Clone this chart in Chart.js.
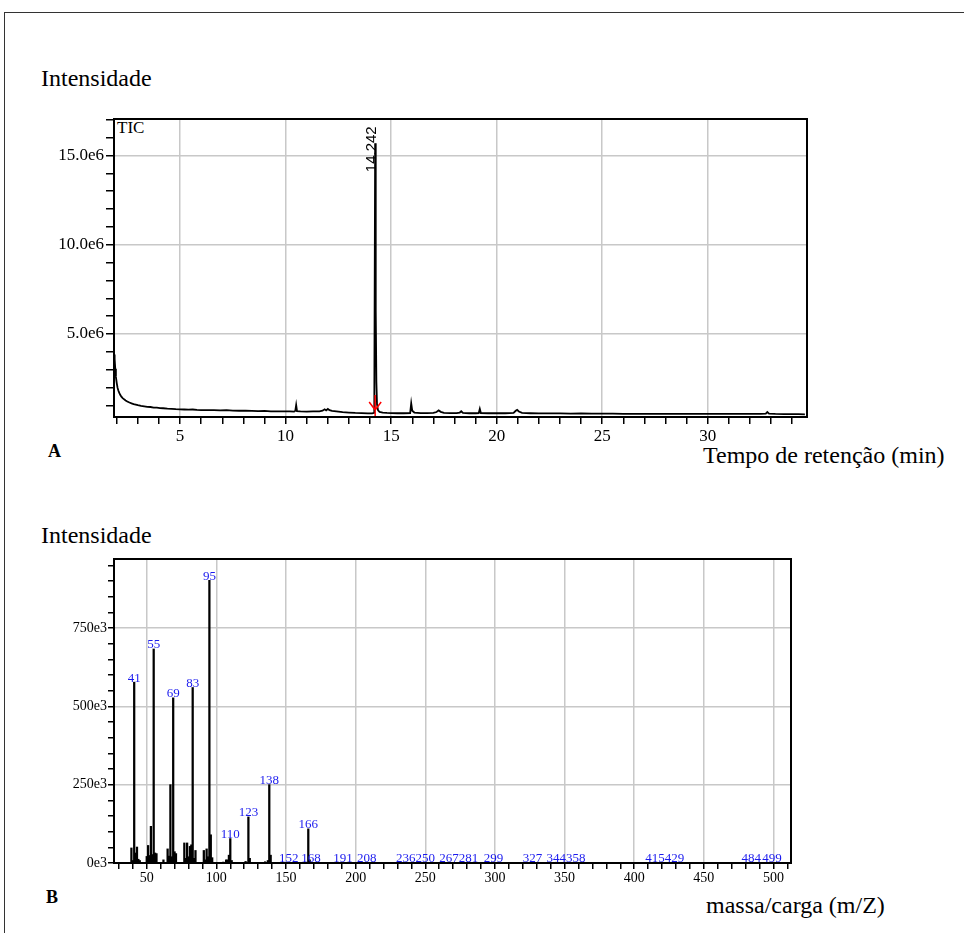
<!DOCTYPE html>
<html>
<head>
<meta charset="utf-8">
<script src="https://cdn.jsdelivr.net/npm/chart.js@4.4.1/dist/chart.umd.min.js"></script>
<style>
  html, body { margin: 0; padding: 0; background: #fff; }
  body { width: 964px; height: 933px; position: relative; overflow: hidden;
         font-family: "Liberation Serif", "Times New Roman", serif; }
  .frame { position: absolute; left: 4px; top: 12px; width: 990px; height: 960px;
           border-left: 1.5px solid #333; border-top: 1.5px solid #333; }
  .txt { position: absolute; white-space: nowrap; color: #000; }
  .big { font-size: 24px; line-height: 24px; }
  .tag { font-size: 18px; line-height: 18px; font-weight: bold; }
  canvas { position: absolute; left: 0; }
</style>
</head>
<body>
<div class="frame"></div>

<div class="txt big" style="left:41px; top:66px;">Intensidade</div>
<div class="txt" style="left:117px; top:119px; font-size:17px; line-height:17px;">TIC</div>
<div class="txt tag" style="left:48px; top:442px;">A</div>
<div class="txt big" style="left:703px; top:443px;">Tempo de retenção (min)</div>

<div class="txt big" style="left:41px; top:523px;">Intensidade</div>
<div class="txt tag" style="left:46px; top:888px;">B</div>
<div class="txt big" style="left:706px; top:893px;">massa/carga (m/Z)</div>

<canvas id="tic" width="964" height="370" style="top:100px; width:964px; height:370px;"></canvas>
<canvas id="ms" width="964" height="380" style="top:540px; width:964px; height:380px;"></canvas>

<script>
// ---- Total ion chromatogram (intensity in units of 1e6 counts) ----
const ticTime = [
  1.87, 1.90, 1.93, 1.96, 2.00, 2.04, 2.08, 2.12, 2.17, 2.22, 2.28, 2.35, 2.42, 2.50,
  2.60, 2.70, 2.80, 2.90, 3.00, 3.15, 3.30, 3.45, 3.60, 3.75, 3.90, 4.05, 4.20, 4.40,
  4.60, 4.80, 5.00, 5.20, 5.40, 5.60, 5.80, 6.00, 6.30, 6.60, 6.90, 7.20, 7.50, 7.80,
  8.10, 8.40, 8.70, 9.00, 9.30, 9.60, 9.90, 10.20, 10.40, 10.46, 10.50, 10.54, 10.70,
  11.00, 11.30, 11.60, 11.75, 11.85, 11.92, 12.00, 12.08, 12.20, 12.40, 12.70, 13.00,
  13.30, 13.60, 13.90, 14.10, 14.20, 14.242, 14.27, 14.30, 14.33, 14.38, 14.45, 14.60,
  14.80, 15.00, 15.30, 15.60, 15.90, 15.95, 16.00, 16.10, 16.40, 16.70, 17.00, 17.15,
  17.25, 17.35, 17.50, 17.80, 18.10, 18.25, 18.32, 18.40, 18.70, 19.00, 19.15, 19.20,
  19.25, 19.60, 20.00, 20.40, 20.80, 20.90, 20.97, 21.05, 21.20, 21.60, 22.00, 22.50,
  23.00, 23.50, 24.00, 24.50, 25.00, 25.50, 26.00, 26.50, 27.00, 27.50, 28.00, 28.50,
  29.00, 29.50, 30.00, 30.50, 31.00, 31.50, 32.00, 32.50, 32.75, 32.82, 32.90, 33.20,
  33.60, 34.00, 34.30, 34.60
];
const ticIntensity = [
  3.85, 3.60, 3.05, 2.60, 2.25, 1.98, 1.82, 1.70, 1.58, 1.49, 1.41, 1.34, 1.28, 1.22,
  1.16, 1.11, 1.07, 1.04, 1.01, 0.97, 0.95, 0.92, 0.91, 0.88, 0.87, 0.85, 0.84, 0.82,
  0.81, 0.79, 0.78, 0.77, 0.76, 0.77, 0.75, 0.74, 0.74, 0.73, 0.72, 0.73, 0.71, 0.70,
  0.70, 0.69, 0.68, 0.69, 0.67, 0.67, 0.66, 0.66, 0.65, 0.70, 1.02, 0.68, 0.66,
  0.65, 0.66, 0.67, 0.70, 0.78, 0.72, 0.80, 0.73, 0.69, 0.66, 0.62, 0.60,
  0.58, 0.57, 0.55, 0.55, 0.58, 15.68, 6.30, 2.30, 1.05, 0.72, 0.64, 0.60,
  0.58, 0.57, 0.56, 0.56, 0.57, 1.12, 0.70, 0.60, 0.57, 0.57, 0.58, 0.63,
  0.72, 0.64, 0.58, 0.57, 0.57, 0.60, 0.67, 0.58, 0.56, 0.56, 0.57, 0.80,
  0.57, 0.56, 0.56, 0.56, 0.58, 0.70, 0.75, 0.66, 0.58, 0.56, 0.55, 0.55,
  0.55, 0.54, 0.55, 0.54, 0.54, 0.54, 0.53, 0.53, 0.53, 0.53, 0.53, 0.52,
  0.53, 0.52, 0.52, 0.52, 0.52, 0.52, 0.52, 0.52, 0.54, 0.63, 0.54, 0.52,
  0.51, 0.51, 0.51, 0.50
];
const ticPeakTime = 14.242;

// ---- Mass spectrum of the 14.242 min peak (intensity in units of 1e3 counts) ----
const msMz = [
  39, 40, 41, 42, 43, 44, 45, 50, 51, 52, 53, 54, 55, 56, 57, 62, 65, 66, 67, 68, 69, 70, 71,
  77, 78, 79, 80, 81, 82, 83, 84, 85, 91, 92, 93, 94, 95, 96, 97, 105, 107, 108, 109, 110, 111,
  121, 123, 124, 135, 137, 138, 139, 152, 166, 167, 168, 191, 208, 236, 250, 267, 281, 299,
  327, 344, 358, 415, 429, 484, 499
];
const msIntensity = [
  48, 8, 577, 32, 51, 12, 8, 21, 56, 24, 117, 27, 683, 32, 30, 10, 45, 22, 250, 20, 527, 36, 30,
  64, 15, 64, 20, 53, 58, 560, 15, 40, 40, 10, 45, 20, 902, 90, 17, 3, 10, 10, 25, 78, 8,
  5, 147, 15, 4, 8, 250, 25, 2, 109, 10, 2, 1.5, 1.5, 1.5, 1.5, 1.5, 1.5, 1.5,
  1.5, 1.5, 1.5, 1.5, 1.5, 1.5, 1.5
];
const msLabelled = [
  41, 55, 69, 83, 95, 110, 123, 138, 152, 166, 168, 191, 208, 236, 250, 267, 281, 299,
  327, 344, 358, 415, 429, 484, 499
];

const SERIF = '"Liberation Serif", "Times New Roman", serif';
const SANS = '"Liberation Sans", Arial, sans-serif';
const GRID = '#c8c8c8';

// Closed black box around the plotting area
const frameBox = {
  id: 'frameBox',
  afterDraw(chart) {
    const { ctx, chartArea: a } = chart;
    ctx.save();
    ctx.strokeStyle = '#000';
    ctx.lineWidth = 2;
    ctx.strokeRect(a.left, a.top, a.right - a.left, a.bottom - a.top);
    ctx.restore();
  }
};

// Retention-time label and red marker for the main TIC peak
const peakMarker = {
  id: 'peakMarker',
  afterDatasetsDraw(chart) {
    const { ctx, chartArea: a, scales } = chart;
    const i = ticTime.indexOf(ticPeakTime);
    const x = scales.x.getPixelForValue(ticPeakTime);
    const yTop = scales.y.getPixelForValue(ticIntensity[i]);
    const b = a.bottom;
    ctx.save();
    ctx.strokeStyle = '#ff0000';
    ctx.lineWidth = 1.5;
    ctx.beginPath();
    ctx.moveTo(x, b - 22); ctx.lineTo(x, b);
    ctx.moveTo(x - 6, b - 15); ctx.lineTo(x, b - 7); ctx.lineTo(x + 6, b - 15);
    ctx.stroke();
    ctx.translate(x + 0.5, yTop - 17);
    ctx.rotate(-Math.PI / 2);
    ctx.fillStyle = '#000';
    ctx.font = '15px ' + SANS;
    ctx.textAlign = 'right';
    ctx.textBaseline = 'alphabetic';
    ctx.fillText(ticPeakTime.toFixed(3), 0, 0);
    ctx.restore();
  }
};

// m/z labels above the spectrum lines
const mzLabels = {
  id: 'mzLabels',
  afterDatasetsDraw(chart) {
    const { ctx, scales } = chart;
    ctx.save();
    ctx.fillStyle = '#1a1aee';
    ctx.font = '13px ' + SERIF;
    ctx.textAlign = 'center';
    ctx.textBaseline = 'alphabetic';
    msLabelled.forEach(m => {
      const i = msMz.indexOf(m);
      const x = scales.x.getPixelForValue(m);
      const y = scales.y.getPixelForValue(msIntensity[i]);
      ctx.fillText(String(m), x, y - 0.5);
    });
    ctx.restore();
  }
};

function minorGrid(step) {
  return c => (c.tick && Math.abs(c.tick.value % step) < 1e-9) ? GRID : 'rgba(0,0,0,0)';
}

new Chart(document.getElementById('tic'), {
  type: 'line',
  data: {
    datasets: [{
      data: ticTime.map((t, i) => ({ x: t, y: ticIntensity[i] })),
      borderColor: '#000',
      borderWidth: 1.8,
      pointRadius: 0,
      tension: 0
    }]
  },
  options: {
    responsive: false,
    animation: false,
    devicePixelRatio: 1,
    layout: { padding: { top: 19, right: 157, left: 0, bottom: 0 } },
    plugins: { legend: { display: false }, tooltip: { enabled: false } },
    scales: {
      x: {
        type: 'linear', min: 1.87, max: 34.7, offset: false,
        afterFit(s) { s.height = 53; },
        border: { color: '#000', width: 2 },
        grid: { color: minorGrid(5), lineWidth: 1.5, tickColor: '#000', tickLength: 7, drawTicks: true },
        ticks: {
          stepSize: 1, autoSkip: false, maxRotation: 0, includeBounds: false, padding: 2,
          color: '#000', font: { family: SERIF, size: 17 },
          callback: v => (v % 5 === 0 ? String(v) : '')
        }
      },
      y: {
        min: 0.35, max: 17.04,
        afterFit(s) { s.width = 114; },
        border: { color: '#000', width: 2 },
        grid: { color: minorGrid(5), lineWidth: 1.5, tickColor: '#000', tickLength: 8, drawTicks: true },
        ticks: {
          stepSize: 1, autoSkip: false, includeBounds: false, padding: 2,
          color: '#000', font: { family: SERIF, size: 17 },
          callback: v => (v % 5 === 0 ? v.toFixed(1) + 'e6' : '')
        }
      }
    }
  },
  plugins: [frameBox, peakMarker]
});

new Chart(document.getElementById('ms'), {
  type: 'bar',
  data: {
    datasets: [{
      data: msMz.map((m, i) => ({ x: m, y: msIntensity[i] })),
      backgroundColor: '#000',
      borderWidth: 0,
      barThickness: 1.6,
      grouped: false
    }]
  },
  options: {
    responsive: false,
    animation: false,
    devicePixelRatio: 1,
    layout: { padding: { top: 19, right: 173, left: 0, bottom: 0 } },
    plugins: { legend: { display: false }, tooltip: { enabled: false } },
    scales: {
      x: {
        type: 'linear', min: 26.5, max: 512.6, offset: false,
        afterFit(s) { s.height = 57; },
        border: { color: '#000', width: 2 },
        grid: { offset: false, color: minorGrid(50), lineWidth: 1.5, tickColor: '#000', tickLength: 6, drawTicks: true },
        ticks: {
          stepSize: 10, autoSkip: false, maxRotation: 0, includeBounds: false, padding: 1,
          color: '#000', font: { family: SERIF, size: 14 },
          callback: v => (v % 50 === 0 ? String(v) : '')
        }
      },
      y: {
        min: 0, max: 970,
        afterFit(s) { s.width = 114; },
        border: { color: '#000', width: 2 },
        grid: { color: minorGrid(250), lineWidth: 1.5, tickColor: '#000', tickLength: 6, drawTicks: true },
        ticks: {
          stepSize: 50, autoSkip: false, includeBounds: false, padding: 1,
          color: '#000', font: { family: SERIF, size: 14 },
          callback: v => (v % 250 === 0 ? v + 'e3' : '')
        }
      }
    }
  },
  plugins: [frameBox, mzLabels]
});
</script>
</body>
</html>
